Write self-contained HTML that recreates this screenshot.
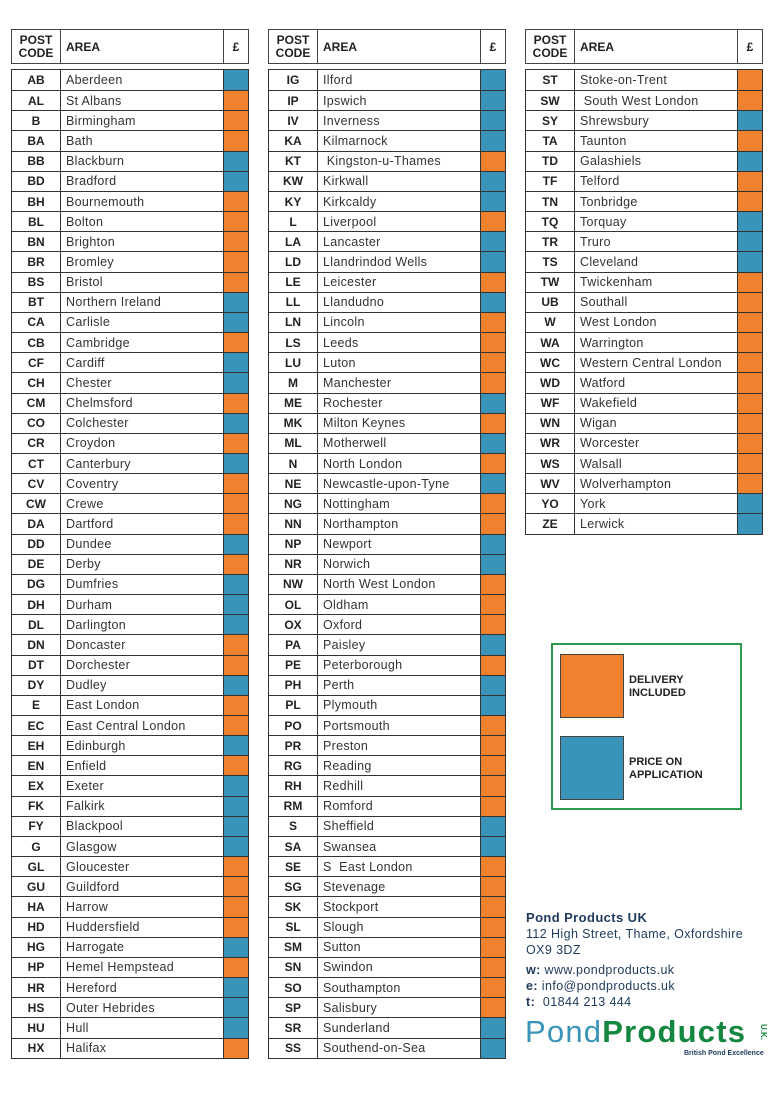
<!DOCTYPE html>
<html><head><meta charset="utf-8"><style>
*{box-sizing:border-box;margin:0;padding:0}
body{width:784px;height:1104px;background:#fff;position:relative;font-family:"Liberation Sans",sans-serif;color:#222;overflow:hidden}
.h{position:absolute;top:29px;height:35px;width:238px;border:1px solid #444;display:flex;font-weight:bold;font-size:12px}
.h div{display:flex;align-items:center}
.h .c{width:49px;border-right:1px solid #444;justify-content:center;text-align:center;line-height:13px}
.h .a{width:163px;border-right:1px solid #444;padding-left:5px}
.h .s{flex:1;justify-content:center}
.t{position:absolute;top:69px;width:238px;border:1px solid #333;display:flex;flex-direction:column}
.r{height:20.16px;display:flex;border-top:1px solid #333;font-size:12.5px;letter-spacing:0.3px}
.r:first-child{border-top:none}
.r span{display:flex;align-items:center}
.r .c{width:49px;border-right:1px solid #333;justify-content:center;font-weight:bold;font-size:12px;letter-spacing:0}
.r .a{width:163px;border-right:1px solid #333;padding-left:5px;color:#333}
.r .s{flex:1}
.O{background:#F0812F}.B{background:#3A93B8}
.leg{position:absolute;left:551px;top:643px;width:191px;height:167px;border:2px solid #2E9A4E}
.sw{position:absolute;left:7px;width:64px;height:64px;border:1px solid #444}
.lt{position:absolute;left:76px;font-weight:bold;font-size:11px;line-height:13px}
.f{position:absolute;left:526px;font-size:12.5px;color:#1f3a5c;letter-spacing:0.4px}
</style></head><body>
<div class="h" style="left:11px"><div class="c">POST<br>CODE</div><div class="a">AREA</div><div class="s">£</div></div>
<div class="h" style="left:268px"><div class="c">POST<br>CODE</div><div class="a">AREA</div><div class="s">£</div></div>
<div class="h" style="left:525px"><div class="c">POST<br>CODE</div><div class="a">AREA</div><div class="s">£</div></div>

<div class="t" style="left:11px">
<div class="r"><span class="c">AB</span><span class="a">Aberdeen</span><span class="s B"></span></div>
<div class="r"><span class="c">AL</span><span class="a">St Albans</span><span class="s O"></span></div>
<div class="r"><span class="c">B</span><span class="a">Birmingham</span><span class="s O"></span></div>
<div class="r"><span class="c">BA</span><span class="a">Bath</span><span class="s O"></span></div>
<div class="r"><span class="c">BB</span><span class="a">Blackburn</span><span class="s B"></span></div>
<div class="r"><span class="c">BD</span><span class="a">Bradford</span><span class="s B"></span></div>
<div class="r"><span class="c">BH</span><span class="a">Bournemouth</span><span class="s O"></span></div>
<div class="r"><span class="c">BL</span><span class="a">Bolton</span><span class="s O"></span></div>
<div class="r"><span class="c">BN</span><span class="a">Brighton</span><span class="s O"></span></div>
<div class="r"><span class="c">BR</span><span class="a">Bromley</span><span class="s O"></span></div>
<div class="r"><span class="c">BS</span><span class="a">Bristol</span><span class="s O"></span></div>
<div class="r"><span class="c">BT</span><span class="a">Northern Ireland</span><span class="s B"></span></div>
<div class="r"><span class="c">CA</span><span class="a">Carlisle</span><span class="s B"></span></div>
<div class="r"><span class="c">CB</span><span class="a">Cambridge</span><span class="s O"></span></div>
<div class="r"><span class="c">CF</span><span class="a">Cardiff</span><span class="s B"></span></div>
<div class="r"><span class="c">CH</span><span class="a">Chester</span><span class="s B"></span></div>
<div class="r"><span class="c">CM</span><span class="a">Chelmsford</span><span class="s O"></span></div>
<div class="r"><span class="c">CO</span><span class="a">Colchester</span><span class="s B"></span></div>
<div class="r"><span class="c">CR</span><span class="a">Croydon</span><span class="s O"></span></div>
<div class="r"><span class="c">CT</span><span class="a">Canterbury</span><span class="s B"></span></div>
<div class="r"><span class="c">CV</span><span class="a">Coventry</span><span class="s O"></span></div>
<div class="r"><span class="c">CW</span><span class="a">Crewe</span><span class="s O"></span></div>
<div class="r"><span class="c">DA</span><span class="a">Dartford</span><span class="s O"></span></div>
<div class="r"><span class="c">DD</span><span class="a">Dundee</span><span class="s B"></span></div>
<div class="r"><span class="c">DE</span><span class="a">Derby</span><span class="s O"></span></div>
<div class="r"><span class="c">DG</span><span class="a">Dumfries</span><span class="s B"></span></div>
<div class="r"><span class="c">DH</span><span class="a">Durham</span><span class="s B"></span></div>
<div class="r"><span class="c">DL</span><span class="a">Darlington</span><span class="s B"></span></div>
<div class="r"><span class="c">DN</span><span class="a">Doncaster</span><span class="s O"></span></div>
<div class="r"><span class="c">DT</span><span class="a">Dorchester</span><span class="s O"></span></div>
<div class="r"><span class="c">DY</span><span class="a">Dudley</span><span class="s B"></span></div>
<div class="r"><span class="c">E</span><span class="a">East London</span><span class="s O"></span></div>
<div class="r"><span class="c">EC</span><span class="a">East Central London</span><span class="s O"></span></div>
<div class="r"><span class="c">EH</span><span class="a">Edinburgh</span><span class="s B"></span></div>
<div class="r"><span class="c">EN</span><span class="a">Enfield</span><span class="s O"></span></div>
<div class="r"><span class="c">EX</span><span class="a">Exeter</span><span class="s B"></span></div>
<div class="r"><span class="c">FK</span><span class="a">Falkirk</span><span class="s B"></span></div>
<div class="r"><span class="c">FY</span><span class="a">Blackpool</span><span class="s B"></span></div>
<div class="r"><span class="c">G</span><span class="a">Glasgow</span><span class="s B"></span></div>
<div class="r"><span class="c">GL</span><span class="a">Gloucester</span><span class="s O"></span></div>
<div class="r"><span class="c">GU</span><span class="a">Guildford</span><span class="s O"></span></div>
<div class="r"><span class="c">HA</span><span class="a">Harrow</span><span class="s O"></span></div>
<div class="r"><span class="c">HD</span><span class="a">Huddersfield</span><span class="s O"></span></div>
<div class="r"><span class="c">HG</span><span class="a">Harrogate</span><span class="s B"></span></div>
<div class="r"><span class="c">HP</span><span class="a">Hemel Hempstead</span><span class="s O"></span></div>
<div class="r"><span class="c">HR</span><span class="a">Hereford</span><span class="s B"></span></div>
<div class="r"><span class="c">HS</span><span class="a">Outer Hebrides</span><span class="s B"></span></div>
<div class="r"><span class="c">HU</span><span class="a">Hull</span><span class="s B"></span></div>
<div class="r"><span class="c">HX</span><span class="a">Halifax</span><span class="s O"></span></div>
</div>

<div class="t" style="left:268px">
<div class="r"><span class="c">IG</span><span class="a">Ilford</span><span class="s B"></span></div>
<div class="r"><span class="c">IP</span><span class="a">Ipswich</span><span class="s B"></span></div>
<div class="r"><span class="c">IV</span><span class="a">Inverness</span><span class="s B"></span></div>
<div class="r"><span class="c">KA</span><span class="a">Kilmarnock</span><span class="s B"></span></div>
<div class="r"><span class="c">KT</span><span class="a">&nbsp;Kingston-u-Thames</span><span class="s O"></span></div>
<div class="r"><span class="c">KW</span><span class="a">Kirkwall</span><span class="s B"></span></div>
<div class="r"><span class="c">KY</span><span class="a">Kirkcaldy</span><span class="s B"></span></div>
<div class="r"><span class="c">L</span><span class="a">Liverpool</span><span class="s O"></span></div>
<div class="r"><span class="c">LA</span><span class="a">Lancaster</span><span class="s B"></span></div>
<div class="r"><span class="c">LD</span><span class="a">Llandrindod Wells</span><span class="s B"></span></div>
<div class="r"><span class="c">LE</span><span class="a">Leicester</span><span class="s O"></span></div>
<div class="r"><span class="c">LL</span><span class="a">Llandudno</span><span class="s B"></span></div>
<div class="r"><span class="c">LN</span><span class="a">Lincoln</span><span class="s O"></span></div>
<div class="r"><span class="c">LS</span><span class="a">Leeds</span><span class="s O"></span></div>
<div class="r"><span class="c">LU</span><span class="a">Luton</span><span class="s O"></span></div>
<div class="r"><span class="c">M</span><span class="a">Manchester</span><span class="s O"></span></div>
<div class="r"><span class="c">ME</span><span class="a">Rochester</span><span class="s B"></span></div>
<div class="r"><span class="c">MK</span><span class="a">Milton Keynes</span><span class="s O"></span></div>
<div class="r"><span class="c">ML</span><span class="a">Motherwell</span><span class="s B"></span></div>
<div class="r"><span class="c">N</span><span class="a">North London</span><span class="s O"></span></div>
<div class="r"><span class="c">NE</span><span class="a">Newcastle-upon-Tyne</span><span class="s B"></span></div>
<div class="r"><span class="c">NG</span><span class="a">Nottingham</span><span class="s O"></span></div>
<div class="r"><span class="c">NN</span><span class="a">Northampton</span><span class="s O"></span></div>
<div class="r"><span class="c">NP</span><span class="a">Newport</span><span class="s B"></span></div>
<div class="r"><span class="c">NR</span><span class="a">Norwich</span><span class="s B"></span></div>
<div class="r"><span class="c">NW</span><span class="a">North West London</span><span class="s O"></span></div>
<div class="r"><span class="c">OL</span><span class="a">Oldham</span><span class="s O"></span></div>
<div class="r"><span class="c">OX</span><span class="a">Oxford</span><span class="s O"></span></div>
<div class="r"><span class="c">PA</span><span class="a">Paisley</span><span class="s B"></span></div>
<div class="r"><span class="c">PE</span><span class="a">Peterborough</span><span class="s O"></span></div>
<div class="r"><span class="c">PH</span><span class="a">Perth</span><span class="s B"></span></div>
<div class="r"><span class="c">PL</span><span class="a">Plymouth</span><span class="s B"></span></div>
<div class="r"><span class="c">PO</span><span class="a">Portsmouth</span><span class="s O"></span></div>
<div class="r"><span class="c">PR</span><span class="a">Preston</span><span class="s O"></span></div>
<div class="r"><span class="c">RG</span><span class="a">Reading</span><span class="s O"></span></div>
<div class="r"><span class="c">RH</span><span class="a">Redhill</span><span class="s O"></span></div>
<div class="r"><span class="c">RM</span><span class="a">Romford</span><span class="s O"></span></div>
<div class="r"><span class="c">S</span><span class="a">Sheffield</span><span class="s B"></span></div>
<div class="r"><span class="c">SA</span><span class="a">Swansea</span><span class="s B"></span></div>
<div class="r"><span class="c">SE</span><span class="a">S&nbsp; East London</span><span class="s O"></span></div>
<div class="r"><span class="c">SG</span><span class="a">Stevenage</span><span class="s O"></span></div>
<div class="r"><span class="c">SK</span><span class="a">Stockport</span><span class="s O"></span></div>
<div class="r"><span class="c">SL</span><span class="a">Slough</span><span class="s O"></span></div>
<div class="r"><span class="c">SM</span><span class="a">Sutton</span><span class="s O"></span></div>
<div class="r"><span class="c">SN</span><span class="a">Swindon</span><span class="s O"></span></div>
<div class="r"><span class="c">SO</span><span class="a">Southampton</span><span class="s O"></span></div>
<div class="r"><span class="c">SP</span><span class="a">Salisbury</span><span class="s O"></span></div>
<div class="r"><span class="c">SR</span><span class="a">Sunderland</span><span class="s B"></span></div>
<div class="r"><span class="c">SS</span><span class="a">Southend-on-Sea</span><span class="s B"></span></div>
</div>

<div class="t" style="left:525px">
<div class="r"><span class="c">ST</span><span class="a">Stoke-on-Trent</span><span class="s O"></span></div>
<div class="r"><span class="c">SW</span><span class="a">&nbsp;South West London</span><span class="s O"></span></div>
<div class="r"><span class="c">SY</span><span class="a">Shrewsbury</span><span class="s B"></span></div>
<div class="r"><span class="c">TA</span><span class="a">Taunton</span><span class="s O"></span></div>
<div class="r"><span class="c">TD</span><span class="a">Galashiels</span><span class="s B"></span></div>
<div class="r"><span class="c">TF</span><span class="a">Telford</span><span class="s O"></span></div>
<div class="r"><span class="c">TN</span><span class="a">Tonbridge</span><span class="s O"></span></div>
<div class="r"><span class="c">TQ</span><span class="a">Torquay</span><span class="s B"></span></div>
<div class="r"><span class="c">TR</span><span class="a">Truro</span><span class="s B"></span></div>
<div class="r"><span class="c">TS</span><span class="a">Cleveland</span><span class="s B"></span></div>
<div class="r"><span class="c">TW</span><span class="a">Twickenham</span><span class="s O"></span></div>
<div class="r"><span class="c">UB</span><span class="a">Southall</span><span class="s O"></span></div>
<div class="r"><span class="c">W</span><span class="a">West London</span><span class="s O"></span></div>
<div class="r"><span class="c">WA</span><span class="a">Warrington</span><span class="s O"></span></div>
<div class="r"><span class="c">WC</span><span class="a">Western Central London</span><span class="s O"></span></div>
<div class="r"><span class="c">WD</span><span class="a">Watford</span><span class="s O"></span></div>
<div class="r"><span class="c">WF</span><span class="a">Wakefield</span><span class="s O"></span></div>
<div class="r"><span class="c">WN</span><span class="a">Wigan</span><span class="s O"></span></div>
<div class="r"><span class="c">WR</span><span class="a">Worcester</span><span class="s O"></span></div>
<div class="r"><span class="c">WS</span><span class="a">Walsall</span><span class="s O"></span></div>
<div class="r"><span class="c">WV</span><span class="a">Wolverhampton</span><span class="s O"></span></div>
<div class="r"><span class="c">YO</span><span class="a">York</span><span class="s B"></span></div>
<div class="r"><span class="c">ZE</span><span class="a">Lerwick</span><span class="s B"></span></div>
</div>

<div class="leg">
<div class="sw O" style="top:9px"></div>
<div class="lt" style="top:29px">DELIVERY<br>INCLUDED</div>
<div class="sw B" style="top:91px"></div>
<div class="lt" style="top:111px">PRICE ON<br>APPLICATION</div>
</div>

<div class="f" style="top:910px;font-weight:bold;font-size:13px">Pond Products UK</div>
<div class="f" style="top:927px">112 High Street, Thame, Oxfordshire</div>
<div class="f" style="top:943px">OX9 3DZ</div>
<div class="f" style="top:963px"><b>w:</b> www.pondproducts.uk</div>
<div class="f" style="top:979px"><b>e:</b> info@pondproducts.uk</div>
<div class="f" style="top:995px"><b>t:</b>&nbsp; 01844 213 444</div>
<div style="position:absolute;left:525px;top:1014px;font-size:31px;font-weight:bold;letter-spacing:1.2px;line-height:36px"><span style="color:#3A93B8;font-weight:normal">Pond</span><span style="color:#13873F">Products</span></div>
<div style="position:absolute;left:768px;top:1024px;font-size:8px;color:#13873F;font-weight:bold;transform:rotate(90deg);transform-origin:left top">U.K.</div>
<div style="position:absolute;left:684px;top:1050px;font-size:7px;color:#1f3a5c;font-weight:bold">British Pond Excellence</div>
</body></html>
